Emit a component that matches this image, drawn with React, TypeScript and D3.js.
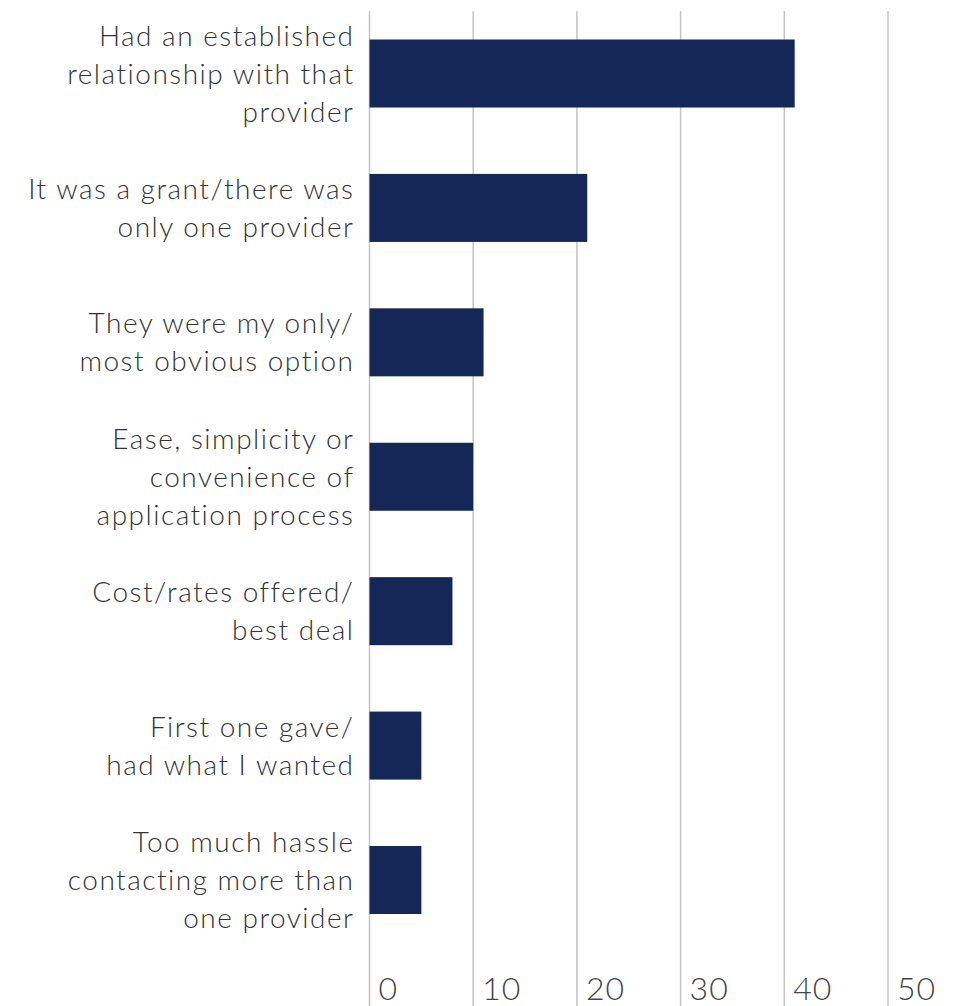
import React from "react";
import * as d3 from "d3";

const categories: string[][] = [
  ["Had an established", "relationship with that", "provider"],
  ["It was a grant/there was", "only one provider"],
  ["They were my only/", "most obvious option"],
  ["Ease, simplicity or", "convenience of", "application process"],
  ["Cost/rates offered/", "best deal"],
  ["First one gave/", "had what I wanted"],
  ["Too much hassle", "contacting more than", "one provider"],
];
const values: number[] = [41, 21, 11, 10, 8, 5, 5];
const ticks: number[] = [0, 10, 20, 30, 40, 50];

const W = 967;
const H = 1006;
const FONT = "Lato, 'Open Sans', sans-serif";

export default function App() {
  const x = d3.scaleLinear().domain([0, 50]).range([369.5, 888]);
  const ids = categories.map((_, i) => String(i));
  const y = d3.scaleBand().domain(ids).range([6.3, 947.2]).paddingInner(0.494).paddingOuter(0.247);
  const lineH = 38;

  return (
    <svg width={W} height={H} style={{ position: "absolute", left: 0, top: 0 }} fontFamily={FONT}>
      <rect width={W} height={H} fill="#ffffff" />
      {ticks.map((t) => (
        <line key={"g" + t} x1={x(t)} x2={x(t)} y1={11} y2={H} stroke="#c4c4c4" strokeWidth={1.5} />
      ))}
      {values.map((v, i) => (
        <rect key={"b" + i} x={x(0)} y={y(ids[i])!} width={x(v) - x(0)} height={y.bandwidth()} fill="#142756" />
      ))}
      {categories.map((lines, i) => {
        const cy = y(ids[i])! + y.bandwidth() / 2;
        const start = cy - ((lines.length - 1) * lineH) / 2 + 10;
        return (
          <text key={"c" + i} textAnchor="end" fontSize={28} fontWeight={300} letterSpacing={1.5} fill="#333333">
            {lines.map((l, j) => (
              <tspan key={j} x={354.5} y={start + j * lineH}>
                {l}
              </tspan>
            ))}
          </text>
        );
      })}
      {ticks.map((t) => (
        <text key={"t" + t} x={x(t) + 9} y={1000} fontSize={32} fontWeight={300} letterSpacing={1} fill="#444444">
          {t}
        </text>
      ))}
    </svg>
  );
}
